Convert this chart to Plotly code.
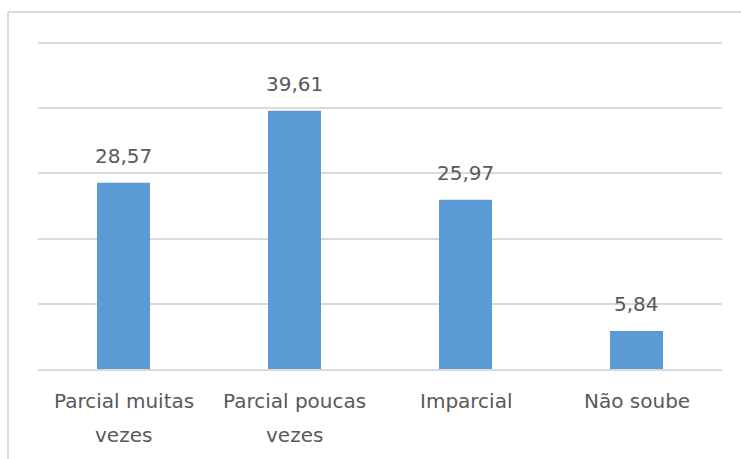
import plotly.graph_objects as go

categories = ["Parcial muitas vezes", "Parcial poucas vezes", "Imparcial", "Não soube"]
category_lines = [["Parcial muitas", "vezes"], ["Parcial poucas", "vezes"], ["Imparcial"], ["Não soube"]]
values = [28.57, 39.61, 25.97, 5.84]
labels = ["28,57", "39,61", "25,97", "5,84"]

W, H = 741, 459
L, R, T, B = 38, 19, 30, 90
FONT = "DejaVu Sans"
GRAY = "#595959"
GRID = "#D9D9D9"

fig = go.Figure()
fig.add_trace(go.Bar(
    x=categories, y=values,
    marker=dict(color="#5B9BD5", line=dict(width=0)),
    width=0.31,
    hoverinfo="skip",
))

for c, v, t in zip(categories, values, labels):
    fig.add_annotation(x=c, y=v, text=t, showarrow=False, yanchor="bottom",
                       yshift=13, font=dict(family=FONT, size=20, color=GRAY))

for c, lines in zip(categories, category_lines):
    for i, ln in enumerate(lines):
        fig.add_annotation(x=c, xref="x", y=0, yref="paper", text=ln, showarrow=False,
                           yanchor="top", yshift=-18 - 34 * i,
                           font=dict(family=FONT, size=20, color=GRAY))

pw = W - L - R
ph = H - T - B
bx = (8 - L) / pw
by = (H - B - 12) / ph
fig.add_shape(type="line", xref="paper", yref="paper", x0=bx, x1=(W - L + 5) / pw,
              y0=by, y1=by, line=dict(color=GRID, width=2))
fig.add_shape(type="line", xref="paper", yref="paper", x0=bx, x1=bx,
              y0=by, y1=-(B + 5) / ph, line=dict(color=GRID, width=2))

fig.update_layout(
    width=W, height=H,
    margin=dict(l=L, r=R, t=T, b=B),
    paper_bgcolor="white", plot_bgcolor="white",
    showlegend=False,
    xaxis=dict(showline=True, linecolor=GRID, linewidth=1.5, showticklabels=False),
    yaxis=dict(range=[0, 52], tickvals=[10, 20, 30, 40, 50], showgrid=True,
               gridcolor=GRID, gridwidth=1.5,
               showticklabels=False, zeroline=False, showline=False),
)

fig.write_html("out.html")
